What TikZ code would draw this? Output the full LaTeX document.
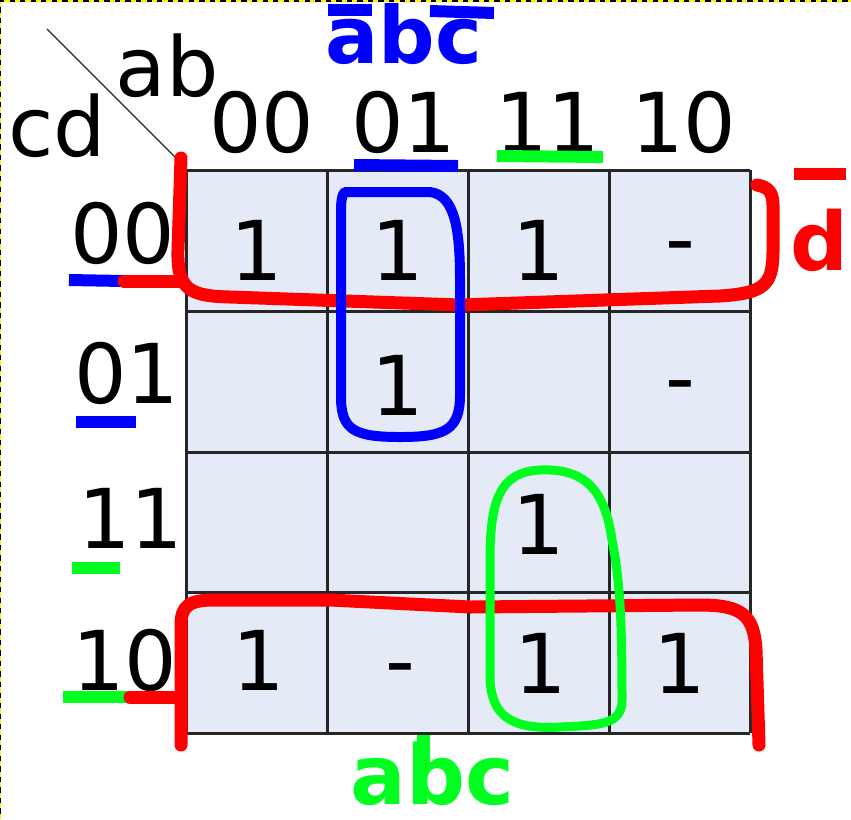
\documentclass[tikz,border=0pt]{standalone}
\usepackage{fontspec}
\setmainfont{DejaVu Sans}
\usetikzlibrary{positioning}
\definecolor{cellfill}{RGB}{229,235,246}
\definecolor{penred}{RGB}{255,0,0}
\definecolor{penblue}{RGB}{0,0,255}
\definecolor{pengreen}{RGB}{0,255,32}

\begin{document}
\begin{tikzpicture}[x=0.02cm, y=-0.02cm,
    lbl/.style={inner sep=0pt, font=\fontsize{47}{56}\selectfont},
    gridline/.style={draw=black!85, line width=0.06cm},
    redpen/.style={draw=penred, line width=0.26cm, line cap=round, line join=round},
    bluepen/.style={draw=penblue, line width=0.2cm, line cap=round, line join=round},
    greenpen/.style={draw=pengreen, line width=0.18cm, line cap=round, line join=round},
    stroke/.style={line width=0.24cm}]
    \useasboundingbox (0,0) rectangle (851,819);
    % frame of the screenshot
    \draw[black, line width=0.04cm] (0.5,819) -- (0.5,0.5) -- (851,0.5);
    \draw[yellow, line width=0.04cm, dash pattern=on 3pt off 3pt] (0.5,819) -- (0.5,0.5) -- (851,0.5);
    % Map grid
    \fill[cellfill] (186,170) rectangle (750,733);
    \foreach \x in {186,327,468,609,750} \draw[gridline] (\x,170) -- (\x,733);
    \foreach \y in {170,311,452,592,733} \draw[gridline] (186,\y) -- (750,\y);
    % Corner labels
    \coordinate (slashtop) at (47,29);
    \coordinate (slashend) at (175,157);
    \draw[black!85, line width=0.7pt] (slashtop) -- (slashend);
    \node[lbl] (hab) at (167,66) {ab};
    \node[lbl] (hcd) at (57,126) {cd};
    % Column header
    \node[lbl] (col00) at (262,122) {00};
    \node[lbl] (col01) at (404,122) {01};
    \node[lbl] (col11) at (548,122) {11};
    \node[lbl] (col10) at (684,122) {10};
    % Row header
    \node[lbl] (row00) at (123,233) {00};
    \node[lbl] (row01) at (127,373) {01};
    \node[lbl] (row11) at (131,518) {11};
    \node[lbl] (row10) at (125,660) {10};
    % Row 00
    \node[lbl] (c00a) at (257,250) {1};
    \node[lbl] (c00b) at (398,250) {1};
    \node[lbl] (c00c) at (539,250) {1};
    \node[lbl] (c00d) at (680,255) {-};
    % Row 01
    \node[lbl] (c01b) at (398,385) {1};
    \node[lbl] (c01d) at (680,394) {-};
    % Row 11
    \node[lbl] (c11c) at (539,524) {1};
    % Row 10
    \node[lbl] (c10a) at (259,660) {1};
    \node[lbl] (c10b) at (400,677) {-};
    \node[lbl] (c10c) at (541,663) {1};
    \node[lbl] (c10d) at (680,663) {1};
    % Underlines
    \draw[penblue, stroke] (354,165) -- (458,166);
    \draw[pengreen, stroke] (497,156) -- (603,157);
    \draw[penblue, stroke] (69,280) -- (124,281);
    \draw[penblue, stroke] (76,422) -- (136,422);
    \draw[pengreen, stroke] (72,568) -- (120,568);
    \draw[pengreen, stroke] (63,697) -- (130,697);
    % Red groups
    \draw[redpen] (124,281) -- (178,281);
    \draw[redpen] (181,158) -- (178,250) .. controls (177,290) and (190,296) .. (230,297)
        -- (460,305) -- (720,296) .. controls (765,293) and (773,285) .. (773,250)
        -- (773,205) .. controls (773,192) and (768,187) .. (757,185);
    \draw[redpen] (130,697) -- (178,697);
    \draw[redpen] (181,745) -- (181,625) .. controls (181,605) and (190,600) .. (215,600)
        -- (330,600) -- (470,607) -- (700,605) .. controls (742,605) and (754,615) .. (756,650)
        -- (759,745);
    \draw[penred, stroke] (794,174) -- (846,174);
    \node[anchor=base east, inner sep=0pt, text=penred, font=\fontsize{46}{50}\selectfont\bfseries] (dbar) at (849,270) {d};
    % Blue group
    \draw[bluepen] (345,192) -- (430,192) .. controls (455,195) and (460,230) .. (460,280)
        -- (460,395) .. controls (460,430) and (445,437) .. (400,437)
        .. controls (355,437) and (342,430) .. (341,400) -- (341,210)
        .. controls (341,198) and (343,193) .. cycle;
    \node[anchor=base west, inner sep=0pt, text=penblue, font=\fontsize{45}{50}\selectfont\bfseries] (topterm) at (325,63) {abc};
    \draw[penblue, stroke] (328,10) -- (372,10);
    \draw[penblue, stroke] (430,11) -- (494,13);
    % Green group
    \draw[greenpen] (540,470) .. controls (585,468) and (605,490) .. (612,540)
        .. controls (620,580) and (622,620) .. (622,700) .. controls (622,725) and (600,725) .. (560,727)
        .. controls (510,730) and (492,715) .. (490,680) -- (490,560)
        .. controls (490,500) and (500,472) .. (540,470);
    \node[anchor=base west, inner sep=0pt, text=pengreen, font=\fontsize{47}{54}\selectfont\bfseries] (botterm) at (350,804) {abc};
    \draw[pengreen, line width=0.26cm] (423,735) -- (423,765);
\end{tikzpicture}
\end{document}
